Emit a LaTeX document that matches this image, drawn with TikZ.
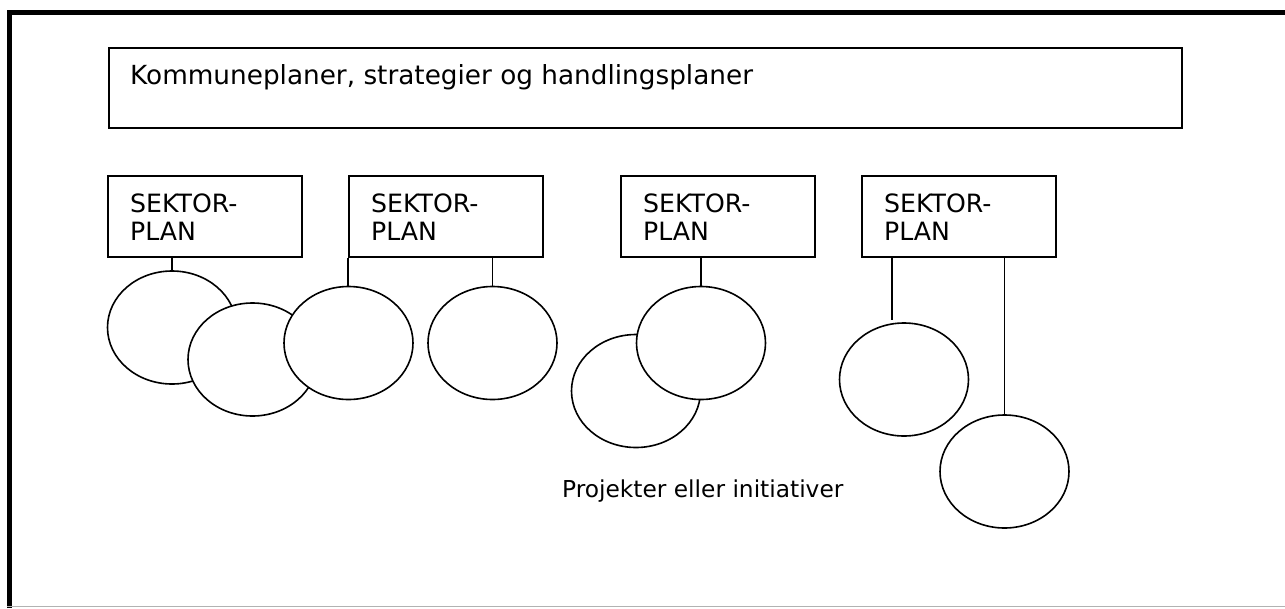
\documentclass[tikz,border=0pt]{standalone}
\usepackage{fontspec}
\setmainfont{DejaVu Sans}
\usetikzlibrary{shapes.geometric}
\begin{document}
\begin{tikzpicture}[x=1pt,y=-1pt,
  txt/.style={font=\fontsize{24.5}{28}\selectfont, inner sep=0pt, anchor=base west, align=left},
  bigbox/.style={draw, line width=1.6pt, anchor=north west, inner sep=0pt},
  sbox/.style={draw, line width=1.6pt, anchor=north west, inner sep=0pt, minimum width=194pt, minimum height=81pt},
  proj/.style={ellipse, draw, fill=white, line width=1.6pt, inner sep=0pt, minimum width=129pt, minimum height=113pt},
  link/.style={line width=1.6pt}]
  \useasboundingbox (0,0) rectangle (1285,608);
  \fill[white] (0,0) rectangle (1285,608);
  % outer frame
  \draw[line width=5pt] (9.5,608) -- (9.5,12.5) -- (1285,12.5);
  \draw[line width=1.5pt, black!30] (7,606.5) -- (1285,606.5);
  % top level plan
  \node[bigbox, minimum width=1073pt, minimum height=80pt] (top) at (108,47) {};
  \node[txt, font=\fontsize{26.3}{28}\selectfont] (toptxt) at (130,84) {Kommuneplaner, strategier og handlingsplaner};
  % sector plans
  \node[sbox] (b1) at (107,175) {};
  \node[sbox] (b2) at (348,175) {};
  \node[sbox] (b3) at (620,175) {};
  \node[sbox] (b4) at (861,175) {};
  \node[txt, font=\fontsize{25.2}{28}\selectfont] (t1) at (130,240) {SEKTOR-\\PLAN};
  \node[txt, font=\fontsize{25.2}{28}\selectfont] (t2) at (371,240) {SEKTOR-\\PLAN};
  \node[txt, font=\fontsize{25.2}{28}\selectfont] (t3) at (643,240) {SEKTOR-\\PLAN};
  \node[txt, font=\fontsize{25.2}{28}\selectfont] (t4) at (884,240) {SEKTOR-\\PLAN};
  % projects
  \node[proj] (e1) at (172,327.5) {};
  \node[proj] (e2) at (252.5,359.5) {};
  \node[proj] (e3) at (348.5,343) {};
  \node[proj] (e4) at (492.5,343) {};
  \node[proj] (e6) at (636,391) {};
  \node[proj] (e5) at (701,343) {};
  \node[proj] (e7) at (904,379.5) {};
  \node[proj] (e8) at (1004.5,471.5) {};
  \coordinate (c7) at (892,320);
  % connectors
  \draw[link] (e1.north |- b1.south) -- (e1.north);
  \draw[link] (b2.south west) -- (b2.south west |- e3.north);
  \draw[link] (e4.north |- b2.south) -- (e4.north);
  \draw[link] (e5.north |- b3.south) -- (e5.north);
  \draw[link] (c7 |- b4.south) -- (c7);
  \draw[link] (e8.north |- b4.south) -- (e8.north);
  \node[txt, font=\fontsize{23.3}{28}\selectfont] (lbl) at (562,497) {Projekter eller initiativer};
\end{tikzpicture}
\end{document}
